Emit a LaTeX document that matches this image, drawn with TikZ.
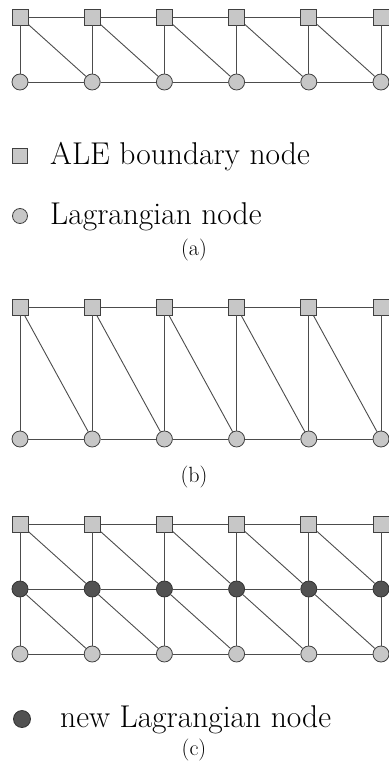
\documentclass[tikz,border=0pt]{standalone}
\begin{document}
\begin{tikzpicture}[x=1pt,y=-1pt,
  ale/.style={rectangle,draw=black!75,fill=black!22,line width=0.8pt,minimum size=16pt,inner sep=0pt},
  lag/.style={circle,draw=black!75,fill=black!22,line width=0.8pt,minimum size=16pt,inner sep=0pt},
  newlag/.style={circle,draw=black!80,fill=black!68,line width=0.8pt,minimum size=16pt,inner sep=0pt},
  edge/.style={draw=black!70,line width=0.9pt},
  legtext/.style={anchor=base west,inner sep=0pt,font=\fontsize{31.5}{36}\selectfont},
  captext/.style={inner sep=0pt,font=\fontsize{22}{26}\selectfont}]
\useasboundingbox (0,0) rectangle (388,765);
% ---------- panel (a)
\foreach \i in {0,...,5} {
  \node[ale] (at\i) at ({20+72.2*\i},17) {};
  \node[lag] (ab\i) at ({20+72.2*\i},82) {};
}
\foreach \i in {0,...,5} \draw[edge] (at\i) -- (ab\i);
\foreach \i [count=\j] in {0,...,4} {
  \draw[edge] (at\i) -- (at\j);
  \draw[edge] (ab\i) -- (ab\j);
  \draw[edge] (at\i) -- (ab\j);
}
\node[ale,minimum size=15pt] (lgsq) at (20,156) {};
\node[legtext] (lgsqt) at (50,164) {ALE boundary node};
\node[lag,minimum size=15pt] (lgci) at (20,216) {};
\node[legtext] (lgcit) at (50,224) {Lagrangian node};
\node[captext] (capa) at (194,250) {(a)};
% ---------- panel (b)
\foreach \i in {0,...,5} {
  \node[ale] (bt\i) at ({20+72.2*\i},307) {};
  \node[lag] (bb\i) at ({20+72.2*\i},439) {};
}
\foreach \i in {0,...,5} \draw[edge] (bt\i) -- (bb\i);
\foreach \i [count=\j] in {0,...,4} {
  \draw[edge] (bt\i) -- (bt\j);
  \draw[edge] (bb\i) -- (bb\j);
  \draw[edge] (bt\i) -- (bb\j);
}
\node[captext] (capb) at (194,477) {(b)};
% ---------- panel (c)
\foreach \i in {0,...,5} {
  \node[ale] (ct\i) at ({20+72.2*\i},524) {};
  \node[newlag] (cm\i) at ({20+72.2*\i},589) {};
  \node[lag] (cb\i) at ({20+72.2*\i},654) {};
}
\foreach \i in {0,...,5} {
  \draw[edge] (ct\i) -- (cm\i);
  \draw[edge] (cm\i) -- (cb\i);
}
\foreach \i [count=\j] in {0,...,4} {
  \draw[edge] (ct\i) -- (ct\j);
  \draw[edge] (cm\i) -- (cm\j);
  \draw[edge] (cb\i) -- (cb\j);
  \draw[edge] (ct\i) -- (cm\j);
  \draw[edge] (cm\i) -- (cb\j);
}
\node[newlag,minimum size=17pt] (lgnew) at (22,719) {};
\node[legtext] (lgnewt) at (60,727) {new Lagrangian node};
\node[captext] (capc) at (194,750) {(c)};
\end{tikzpicture}
\end{document}
